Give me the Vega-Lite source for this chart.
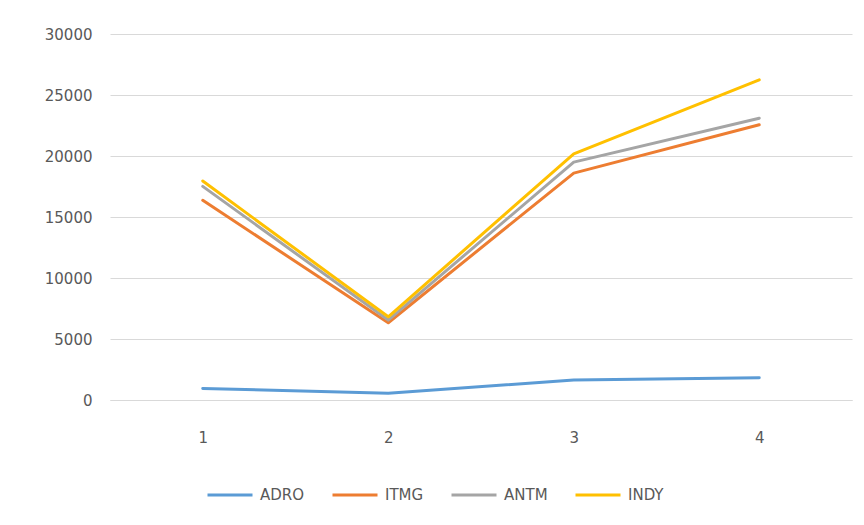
{
  "$schema": "https://vega.github.io/schema/vega-lite/v6.json",
  "width": 742,
  "height": 366,
  "autosize": {"type": "none"},
  "padding": {"left": 110, "top": 34, "right": 12, "bottom": 125},
  "background": "white",
  "config": {
    "view": {"stroke": null},
    "font": "DejaVu Sans"
  },
  "data": {
    "values": [
      {"x": "1", "series": "ADRO", "value": 950},
      {"x": "2", "series": "ADRO", "value": 545},
      {"x": "3", "series": "ADRO", "value": 1640},
      {"x": "4", "series": "ADRO", "value": 1825},
      {"x": "1", "series": "ITMG", "value": 16370},
      {"x": "2", "series": "ITMG", "value": 6330},
      {"x": "3", "series": "ITMG", "value": 18600},
      {"x": "4", "series": "ITMG", "value": 22560},
      {"x": "1", "series": "ANTM", "value": 17510},
      {"x": "2", "series": "ANTM", "value": 6550},
      {"x": "3", "series": "ANTM", "value": 19500},
      {"x": "4", "series": "ANTM", "value": 23100},
      {"x": "1", "series": "INDY", "value": 17950},
      {"x": "2", "series": "INDY", "value": 6820},
      {"x": "3", "series": "INDY", "value": 20180},
      {"x": "4", "series": "INDY", "value": 26240}
    ]
  },
  "mark": {"type": "line", "strokeWidth": 3, "strokeCap": "round", "strokeJoin": "round"},
  "encoding": {
    "x": {
      "field": "x",
      "type": "ordinal",
      "scale": {"type": "point", "padding": 0.5},
      "axis": {
        "title": null,
        "labelAngle": 0,
        "ticks": false,
        "domain": true,
        "domainColor": "#d9d9d9",
        "domainWidth": 1,
        "grid": false,
        "labelPadding": 30,
        "labelFontSize": 15,
        "labelColor": "#595959"
      }
    },
    "y": {
      "field": "value",
      "type": "quantitative",
      "scale": {"domain": [0, 30000], "nice": false},
      "axis": {
        "title": null,
        "values": [0, 5000, 10000, 15000, 20000, 25000, 30000],
        "format": "d",
        "ticks": false,
        "domain": false,
        "grid": true,
        "gridColor": "#d9d9d9",
        "gridWidth": 1,
        "labelPadding": 18,
        "labelFontSize": 15,
        "labelColor": "#595959"
      }
    },
    "color": {
      "field": "series",
      "type": "nominal",
      "sort": ["ADRO", "ITMG", "ANTM", "INDY"],
      "scale": {
        "domain": ["ADRO", "ITMG", "ANTM", "INDY"],
        "range": ["#5b9bd5", "#ed7d31", "#a5a5a5", "#ffc000"]
      },
      "legend": {
        "title": null,
        "orient": "none",
        "direction": "horizontal",
        "legendX": 96,
        "legendY": 437,
        "symbolType": "stroke",
        "symbolSize": 2025,
        "symbolStrokeWidth": 3,
        "labelFontSize": 15,
        "labelColor": "#595959",
        "labelOffset": 6,
        "columnPadding": 21
      }
    }
  }
}
